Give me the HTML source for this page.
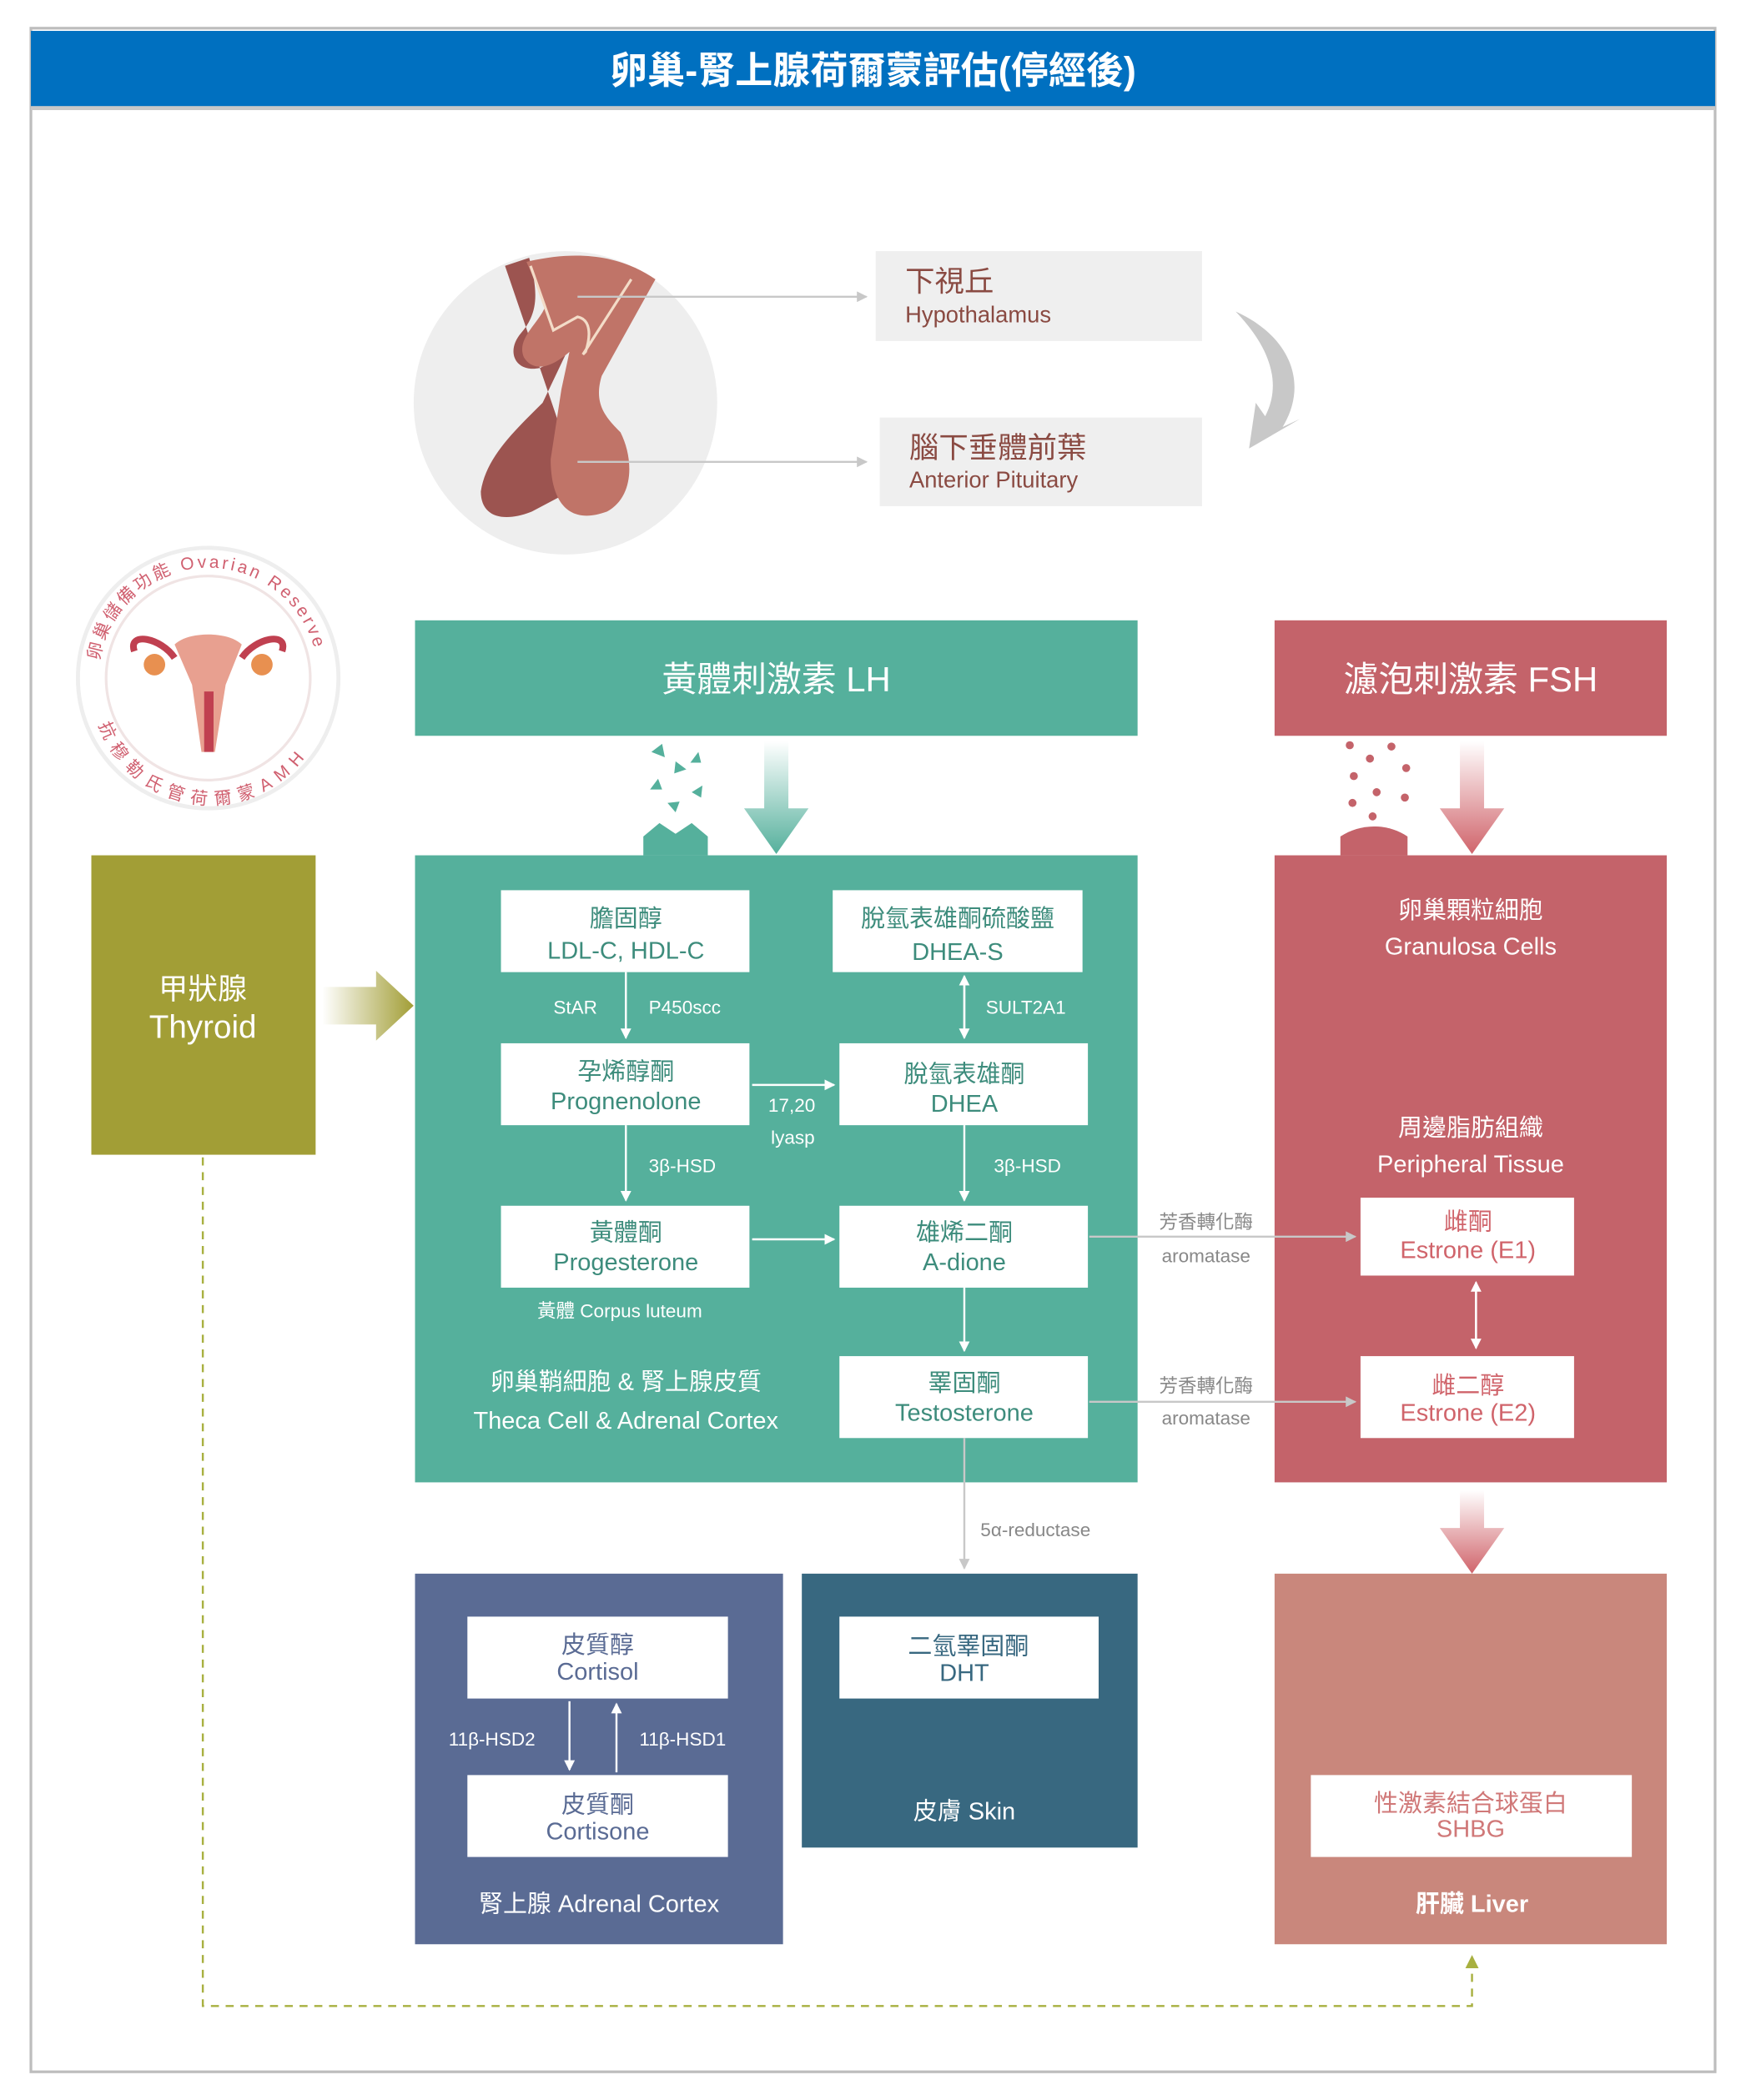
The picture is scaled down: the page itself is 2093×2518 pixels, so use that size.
<!DOCTYPE html>
<html><head><meta charset="utf-8"><style>
html,body{margin:0;padding:0;background:#fff;}
svg{display:block;}
text{font-family:"Liberation Sans","Noto Sans CJK TC",sans-serif;}
</style></head><body>
<svg width="2093" height="2518" viewBox="0 0 1300 1564" xmlns="http://www.w3.org/2000/svg">
<defs>
<marker id="ag" markerWidth="8" markerHeight="8" refX="7" refY="4" orient="auto" markerUnits="userSpaceOnUse"><path d="M0,0 L8,4 L0,8 Z" fill="#c8c8c8"/></marker>
<marker id="aw" markerWidth="8" markerHeight="8" refX="7" refY="4" orient="auto" markerUnits="userSpaceOnUse"><path d="M0,0 L8,4 L0,8 Z" fill="#fff"/></marker>
<marker id="ay" markerWidth="10" markerHeight="10" refX="9" refY="5" orient="auto" markerUnits="userSpaceOnUse"><path d="M0,0 L10,5 L0,10 Z" fill="#a8b040"/></marker>
<linearGradient id="gt" x1="0" y1="0" x2="0" y2="1"><stop offset="0" stop-color="#fff"/><stop offset="1" stop-color="#55b09c"/></linearGradient>
<linearGradient id="gr" x1="0" y1="0" x2="0" y2="1"><stop offset="0" stop-color="#fff"/><stop offset="1" stop-color="#d0646b"/></linearGradient>
<linearGradient id="gy" x1="0" y1="0" x2="1" y2="0"><stop offset="0" stop-color="#fff"/><stop offset="1" stop-color="#a29e36"/></linearGradient>
</defs>
<rect x="23" y="21" width="1254" height="1522" fill="#fff" stroke="#bdbdbd" stroke-width="2"/>
<rect x="23" y="23" width="1254" height="57" fill="#0070c0"/>
<rect x="23" y="79" width="1254" height="3" fill="#c8c8c8"/>
<text x="650" y="62" font-size="28" font-weight="bold" fill="#fff" text-anchor="middle">卵巢-腎上腺荷爾蒙評估(停經後)</text>

<!-- brain -->
<circle cx="421" cy="300" r="113" fill="#eeeeee"/>
<path d="M376,198 L394,192 C400,215 402,232 388,248 C376,262 384,278 402,274 C412,270 418,262 424,258 L404,300 C384,320 362,340 358,366 C358,386 376,389 396,381 L432,362 Z" fill="#9c5450"/>
<path d="M392,195 C430,186 462,190 488,208 L448,280 C442,300 450,310 462,322 C472,342 472,370 452,381 C422,392 410,372 410,342 L418,290 L424,262 C408,276 396,276 390,266 C384,252 402,240 406,228 Z" fill="#c07468"/>
<path d="M395,198 L412,246 L430,236 C440,238 440,250 436,262 L434,264 L470,208" fill="none" stroke="#f3dcc8" stroke-width="2"/>
<line x1="430" y1="221" x2="645" y2="221" stroke="#c8c8c8" stroke-width="1.5" marker-end="url(#ag)"/>
<line x1="430" y1="344" x2="645" y2="344" stroke="#c8c8c8" stroke-width="1.5" marker-end="url(#ag)"/>
<rect x="652" y="187" width="243" height="67" fill="#efefef"/>
<text x="674" y="217" font-size="22" fill="#8a4a42">下視丘</text>
<text x="674" y="240" font-size="17" fill="#8a4a42">Hypothalamus</text>
<rect x="655" y="311" width="240" height="66" fill="#efefef"/>
<text x="677" y="341" font-size="22" fill="#8a4a42">腦下垂體前葉</text>
<text x="677" y="363" font-size="17" fill="#8a4a42">Anterior Pituitary</text>
<path d="M920,232 C960,250 975,285 955,318 L968,312 L930,334 L935,300 L942,310 C955,285 945,258 920,232 Z" fill="#c8c8c8"/>

<!-- logo -->
<circle cx="155" cy="505" r="97" fill="#fff" stroke="#eee" stroke-width="3"/>
<circle cx="155" cy="505" r="76" fill="none" stroke="#f0e4e4" stroke-width="2"/>
<path id="arc" d="M74,492 A82,82 0 0 1 236,492" fill="none"/>
<text font-size="13" fill="#d06070" textLength="222" lengthAdjust="spacing"><textPath href="#arc">卵巢儲備功能 Ovarian Reserve</textPath></text>
<path id="arc2" d="M72,535 A88,88 0 0 0 238,545" fill="none"/>
<text font-size="13" fill="#d06070" textLength="190" lengthAdjust="spacing"><textPath href="#arc2" startOffset="5">抗穆勒氏管荷爾蒙AMH</textPath></text>
<path d="M130,480 C140,470 170,470 180,480 L168,510 L160,560 L150,560 L143,510 Z" fill="#e8a090"/>
<path d="M100,485 C95,470 120,475 130,490 M210,485 C215,470 190,475 180,490" stroke="#c04050" stroke-width="5" fill="none"/>
<circle cx="115" cy="495" r="8" fill="#e89050"/><circle cx="195" cy="495" r="8" fill="#e89050"/>
<rect x="152" y="515" width="7" height="45" fill="#c04050"/>

<!-- LH / FSH -->
<rect x="309" y="462" width="538" height="86" fill="#55b09c"/>
<text x="578" y="515" font-size="26" fill="#fff" text-anchor="middle">黃體刺激素 LH</text>
<rect x="949" y="462" width="292" height="86" fill="#c4636a"/>
<text x="1095" y="515" font-size="26" fill="#fff" text-anchor="middle">濾泡刺激素 FSH</text>
<path d="M569,552 h18 v50 h15 l-24,34 l-24,-34 h15 Z" fill="url(#gt)"/>
<path d="M1087,552 h18 v50 h15 l-24,34 l-24,-34 h15 Z" fill="url(#gr)"/>
<g fill="#55b09c"><path d="M485,560 l8,-6 l2,10z M503,567 l8,6 l-9,3z M490,580 l-6,8 l9,0z M515,590 l8,-5 l-1,9z M497,598 l6,7 l3,-8z M520,560 l-6,8 l8,0z"/></g>
<path d="M479,637 v-14 l12,-10 l12,8 l12,-8 l12,10 v14 z" fill="#55b09c"/>
<g fill="#c4636a"><circle cx="1005" cy="555" r="3"/><circle cx="1020" cy="565" r="3"/><circle cx="1036" cy="556" r="3"/><circle cx="1008" cy="578" r="3"/><circle cx="1047" cy="572" r="3"/><circle cx="1025" cy="590" r="3"/><circle cx="1007" cy="598" r="3"/><circle cx="1046" cy="594" r="3"/><circle cx="1022" cy="608" r="3"/></g>
<path d="M998,637 v-14 c15,-10 35,-10 50,0 v14 z" fill="#c4636a"/>

<!-- thyroid -->
<rect x="68" y="637" width="167" height="223" fill="#a29e36"/>
<text x="151" y="744" font-size="22" fill="#fff" text-anchor="middle">甲狀腺</text>
<text x="151" y="773" font-size="24" fill="#fff" text-anchor="middle">Thyroid</text>
<path d="M240,735 h40 v-12 l28,26 l-28,26 v-12 h-40 z" fill="url(#gy)"/>

<!-- teal main -->
<rect x="309" y="637" width="538" height="467" fill="#55b09c"/>
<g fill="#fff">
<rect x="373" y="663" width="185" height="61"/><rect x="620" y="663" width="186" height="61"/>
<rect x="373" y="777" width="185" height="61"/><rect x="625" y="777" width="185" height="61"/>
<rect x="373" y="898" width="185" height="61"/><rect x="625" y="898" width="185" height="61"/>
<rect x="625" y="1010" width="185" height="61"/>
</g>
<g font-size="18" fill="#3d8c7c" text-anchor="middle">
<text x="466" y="690">膽固醇</text><text x="466" y="714">LDL-C, HDL-C</text>
<text x="713" y="690">脫氫表雄酮硫酸鹽</text><text x="713" y="715">DHEA-S</text>
<text x="466" y="804">孕烯醇酮</text><text x="466" y="826">Prognenolone</text>
<text x="718" y="806">脫氫表雄酮</text><text x="718" y="828">DHEA</text>
<text x="466" y="924">黃體酮</text><text x="466" y="946">Progesterone</text>
<text x="718" y="924">雄烯二酮</text><text x="718" y="946">A-dione</text>
<text x="718" y="1036">睪固酮</text><text x="718" y="1058">Testosterone</text>
</g>
<g stroke="#fff" stroke-width="1.5" fill="none">
<line x1="466" y1="724" x2="466" y2="773" marker-end="url(#aw)"/>
<line x1="718" y1="730" x2="718" y2="773" marker-end="url(#aw)"/>
<line x1="718" y1="770" x2="718" y2="727" marker-end="url(#aw)"/>
<line x1="466" y1="838" x2="466" y2="894" marker-end="url(#aw)"/>
<line x1="718" y1="838" x2="718" y2="894" marker-end="url(#aw)"/>
<line x1="560" y1="808" x2="621" y2="808" marker-end="url(#aw)"/>
<line x1="560" y1="923" x2="621" y2="923" marker-end="url(#aw)"/>
<line x1="718" y1="959" x2="718" y2="1006" marker-end="url(#aw)"/>
</g>
<g font-size="14" fill="#fff">
<text x="412" y="755">StAR</text><text x="483" y="755">P450scc</text>
<text x="734" y="755">SULT2A1</text>
<text x="572" y="828">17,20</text><text x="574" y="852">lyasp</text>
<text x="483" y="873">3β-HSD</text><text x="740" y="873">3β-HSD</text>
<text x="400" y="981">黃體 Corpus luteum</text>
</g>
<text x="466" y="1035" font-size="18" fill="#fff" text-anchor="middle">卵巢鞘細胞 &amp; 腎上腺皮質</text>
<text x="466" y="1064" font-size="18" fill="#fff" text-anchor="middle">Theca Cell &amp; Adrenal Cortex</text>

<!-- red main -->
<rect x="949" y="637" width="292" height="467" fill="#c4636a"/>
<g font-size="18" fill="#fff" text-anchor="middle">
<text x="1095" y="684">卵巢顆粒細胞</text><text x="1095" y="711">Granulosa Cells</text>
<text x="1095" y="846">周邊脂肪組織</text><text x="1095" y="873">Peripheral Tissue</text>
</g>
<rect x="1013" y="892" width="159" height="58" fill="#fff"/>
<rect x="1013" y="1010" width="159" height="61" fill="#fff"/>
<g font-size="18" fill="#d0646b" text-anchor="middle">
<text x="1093" y="916">雌酮</text><text x="1093" y="937">Estrone (E1)</text>
<text x="1093" y="1038">雌二醇</text><text x="1093" y="1058">Estrone (E2)</text>
</g>
<line x1="1099" y1="958" x2="1099" y2="1004" stroke="#fff" stroke-width="1.5" marker-end="url(#aw)"/>
<line x1="1099" y1="1000" x2="1099" y2="955" stroke="#fff" stroke-width="1.5" marker-end="url(#aw)"/>
<line x1="811" y1="921" x2="1009" y2="921" stroke="#c8c8c8" stroke-width="1.5" marker-end="url(#ag)"/>
<line x1="811" y1="1044" x2="1009" y2="1044" stroke="#c8c8c8" stroke-width="1.5" marker-end="url(#ag)"/>
<g font-size="14" fill="#888" text-anchor="middle">
<text x="898" y="915">芳香轉化酶</text><text x="898" y="940">aromatase</text>
<text x="898" y="1037">芳香轉化酶</text><text x="898" y="1061">aromatase</text>
</g>
<path d="M1087,1110 h18 v28 h15 l-24,34 l-24,-34 h15 Z" fill="url(#gr)"/>

<!-- testosterone to DHT -->
<line x1="718" y1="1071" x2="718" y2="1168" stroke="#c8c8c8" stroke-width="1.5" marker-end="url(#ag)"/>
<text x="730" y="1144" font-size="14" fill="#888">5α-reductase</text>

<!-- adrenal -->
<rect x="309" y="1172" width="274" height="276" fill="#5a6b94"/>
<rect x="348" y="1204" width="194" height="61" fill="#fff"/>
<rect x="348" y="1322" width="194" height="61" fill="#fff"/>
<g font-size="18" fill="#5a6b94" text-anchor="middle">
<text x="445" y="1231">皮質醇</text><text x="445" y="1251">Cortisol</text>
<text x="445" y="1350">皮質酮</text><text x="445" y="1370">Cortisone</text>
</g>
<line x1="424" y1="1267" x2="424" y2="1318" stroke="#fff" stroke-width="1.5" marker-end="url(#aw)"/>
<line x1="459" y1="1320" x2="459" y2="1269" stroke="#fff" stroke-width="1.5" marker-end="url(#aw)"/>
<text x="334" y="1300" font-size="14" fill="#fff">11β-HSD2</text>
<text x="476" y="1300" font-size="14" fill="#fff">11β-HSD1</text>
<text x="446" y="1424" font-size="18" fill="#fff" text-anchor="middle">腎上腺  Adrenal Cortex</text>

<!-- skin -->
<rect x="597" y="1172" width="250" height="204" fill="#386880"/>
<rect x="625" y="1204" width="193" height="61" fill="#fff"/>
<text x="721" y="1232" font-size="18" fill="#386880" text-anchor="middle">二氫睪固酮</text>
<text x="718" y="1252" font-size="18" fill="#386880" text-anchor="middle">DHT</text>
<text x="718" y="1355" font-size="18" fill="#fff" text-anchor="middle">皮膚  Skin</text>

<!-- liver -->
<rect x="949" y="1172" width="292" height="276" fill="#c9877c"/>
<rect x="976" y="1322" width="239" height="61" fill="#fff"/>
<text x="1095" y="1349" font-size="18" fill="#d07878" text-anchor="middle">性激素結合球蛋白</text>
<text x="1095" y="1368" font-size="18" fill="#d07878" text-anchor="middle">SHBG</text>
<text x="1096" y="1424" font-size="18" font-weight="bold" fill="#fff" text-anchor="middle">肝臟  Liver</text>

<!-- dashed -->
<path d="M151,862 V1494 H1096 V1457" fill="none" stroke="#a8b040" stroke-width="1.5" stroke-dasharray="6,5" marker-end="url(#ay)"/>
</svg>
</body></html>
